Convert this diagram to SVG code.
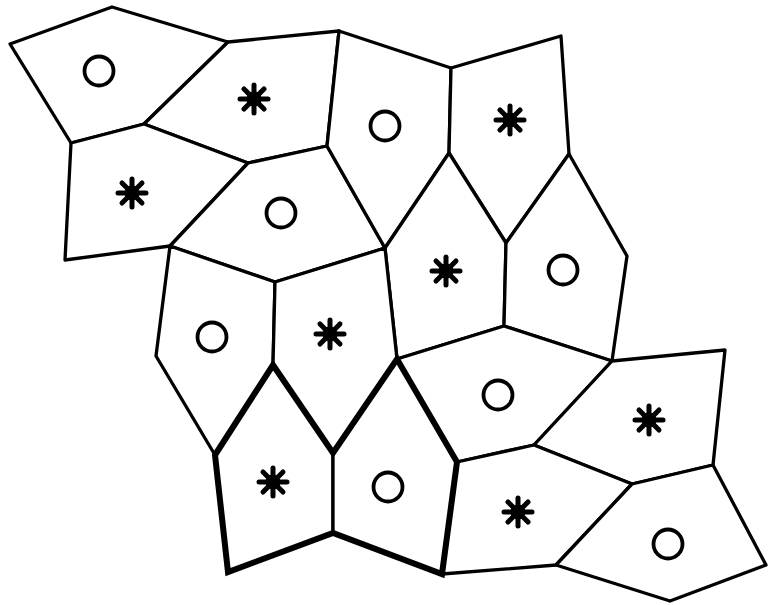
<svg xmlns="http://www.w3.org/2000/svg" width="769" height="605" viewBox="0 0 769 605">
<style>
.cell{fill:#fff;stroke:#000;stroke-width:3.3;stroke-linejoin:round}
.ring{fill:none;stroke:#000;stroke-width:3.8}
.thick{fill:none;stroke:#000;stroke-width:6;stroke-linejoin:miter;stroke-linecap:round}
.arm{stroke:#000;stroke-width:5;stroke-linecap:round}
</style>
<defs>
<g id="star">
<line class="arm" x1="0" y1="-14" x2="0" y2="14"/>
<line class="arm" x1="-14" y1="0" x2="14" y2="0"/>
<line class="arm" x1="-10" y1="-10" x2="10" y2="10"/>
<line class="arm" x1="10" y1="-10" x2="-10" y2="10"/>
<circle r="7.5" fill="#000"/>
</g>
</defs>
<rect width="769" height="605" fill="#fff"/>
<g id="cells">
<g id="c1"><polygon class="cell" points="112,7 228,42 144,124 71,143 10,44"/><circle class="ring" cx="99" cy="71" r="14.5"/></g>
<g id="c2"><polygon class="cell" points="228,42 339,31 327,146 248,163 144,124"/><use href="#star" x="254" y="99"/></g>
<g id="c3"><polygon class="cell" points="71,143 144,124 248,163 170,246 65,260"/><use href="#star" x="132" y="193"/></g>
<g id="c4"><polygon class="cell" points="248,163 327,146 385,248 275,282 170,246"/><circle class="ring" cx="281" cy="213" r="14.5"/></g>
<g id="c5"><polygon class="cell" points="339,31 451,68 449,153 385,248 327,146"/><circle class="ring" cx="385" cy="126" r="14.5"/></g>
<g id="c6"><polygon class="cell" points="451,68 561,36 569,154 506,243 449,153"/><use href="#star" x="510" y="120"/></g>
<g id="c7"><polygon class="cell" points="449,153 506,243 504,326 397,359 385,248"/><use href="#star" x="446" y="271"/></g>
<g id="c8"><polygon class="cell" points="506,243 569,154 627,256 612,361 504,326"/><circle class="ring" cx="563" cy="270" r="14.5"/></g>
<g id="c9"><polygon class="cell" points="170,246 275,282 273,365 215,455 156,356"/><circle class="ring" cx="212" cy="337" r="14.5"/></g>
<g id="c10"><polygon class="cell" points="275,282 385,248 397,359 333,453 273,365"/><use href="#star" x="330" y="334"/></g>
<g id="c11"><polygon class="cell" points="504,326 612,361 534,445 457,462 397,359"/><circle class="ring" cx="498" cy="395" r="14.5"/></g>
<g id="c12"><polygon class="cell" points="612,361 725,350 713,465 632,484 534,445"/><use href="#star" x="649" y="420"/></g>
<g id="c13"><polygon class="cell" points="273,365 333,453 333,533 228,572 215,455"/><use href="#star" x="273" y="482"/></g>
<g id="c14"><polygon class="cell" points="397,359 457,462 442,574 333,533 333,453"/><circle class="ring" cx="388" cy="487" r="14.5"/></g>
<g id="c15"><polygon class="cell" points="457,462 534,445 632,484 556,565 442,574"/><use href="#star" x="518" y="512"/></g>
<g id="c16"><polygon class="cell" points="632,484 713,465 766,565 670,601 556,565"/><circle class="ring" cx="668" cy="544" r="14.5"/></g>
</g>
<g id="outline">
<path class="thick" d="M215,455 L273,365 L333,453 L397,359 L457,462 L442,574 L333,533 L228,572 Z"/>
</g>
</svg>
